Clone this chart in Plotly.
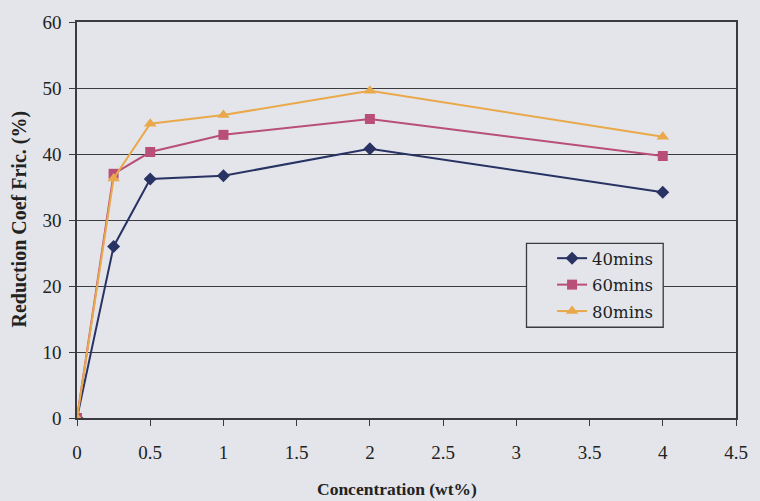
import plotly.graph_objects as go

# Concentration of additive (wt%) and reduction in friction coefficient (%)
concentration = [0, 0.25, 0.5, 1, 2, 4]
red_40mins = [0, 26.0, 36.2, 36.7, 40.8, 34.2]
red_60mins = [0, 37.0, 40.3, 42.9, 45.3, 39.7]
red_80mins = [0, 36.3, 44.6, 45.9, 49.6, 42.6]

x_ticks = [0, 0.5, 1, 1.5, 2, 2.5, 3, 3.5, 4, 4.5]
y_ticks = [0, 10, 20, 30, 40, 50, 60]

bg = "#e3e5ea"
ink = "#3a3a3f"
serif = "Liberation Serif, Times New Roman, serif"

# plot area in pixels, used to place the legend frame in paper units
L, R, T, B = 77, 747, 21, 418
W, H = R - L, B - T


def px_x(p):
    return (p - L) / W


def px_y(p):
    return (B - p) / H


series = [
    ("40mins", red_40mins, "#283364", "diamond", 10),
    ("60mins", red_60mins, "#b94f78", "square", 10),
    ("80mins", red_80mins, "#e9a94b", "triangle-up", 11),
]

fig = go.Figure()
for name, vals, col, sym, size in series:
    fig.add_trace(go.Scatter(
        x=concentration, y=vals, name=name, mode="lines+markers",
        legendgroup=name,
        line=dict(color=col, width=2),
        marker=dict(symbol=sym, size=size, color=col),
    ))

# legend frame drawn as a filled box so the grid stays hidden behind it
fig.add_shape(type="rect", xref="paper", yref="paper",
              x0=px_x(534), x1=px_x(673), y0=px_y(327), y1=px_y(243),
              fillcolor=bg, line=dict(color=ink, width=1.3), layer="above")

fig.update_layout(
    width=760, height=501,
    margin=dict(l=L, r=760 - R, t=T, b=501 - B),
    paper_bgcolor=bg, plot_bgcolor=bg,
    font=dict(family=serif, color="#222"),
    showlegend=True,
    legend=dict(
        x=px_x(560), y=px_y(240.5), xanchor="left", yanchor="top",
        bgcolor="rgba(0,0,0,0)", borderwidth=0,
        font=dict(size=16.5, family="DejaVu Serif, serif", color="#222"),
        itemwidth=30, tracegroupgap=2,
    ),
    xaxis=dict(
        range=[0, 4.5], tickvals=x_ticks,
        ticktext=[f"{v:g}" for v in x_ticks],
        showgrid=False, zeroline=False,
        showline=True, linecolor=ink, linewidth=1.5, mirror=True,
        ticks="outside", ticklen=6, tickcolor=ink,
        tickfont=dict(size=19, family=serif, color="#222"),
        ticklabelstandoff=10,
    ),
    yaxis=dict(
        range=[0, 60], tickvals=y_ticks,
        showgrid=True, gridcolor=ink, gridwidth=1.4, zeroline=False,
        showline=True, linecolor=ink, linewidth=1.5, mirror=True,
        ticks="outside", ticklen=6, tickcolor=ink,
        tickfont=dict(size=19, family=serif, color="#222"),
        ticklabelstandoff=4,
    ),
    annotations=[
        dict(text="<b>Concentration (wt%)</b>", xref="paper", yref="paper",
             x=px_x(402), y=-0.18, xanchor="center", yanchor="middle",
             showarrow=False, font=dict(size=17.5, family=serif, color="#222")),
        dict(text="<b>Reduction Coef Fric. (%)</b>", xref="paper", yref="paper",
             x=-0.088, y=px_y(219), xanchor="center", yanchor="middle",
             textangle=-90,
             showarrow=False, font=dict(size=20, family=serif, color="#222")),
    ],
)

fig.write_html("out.html")
